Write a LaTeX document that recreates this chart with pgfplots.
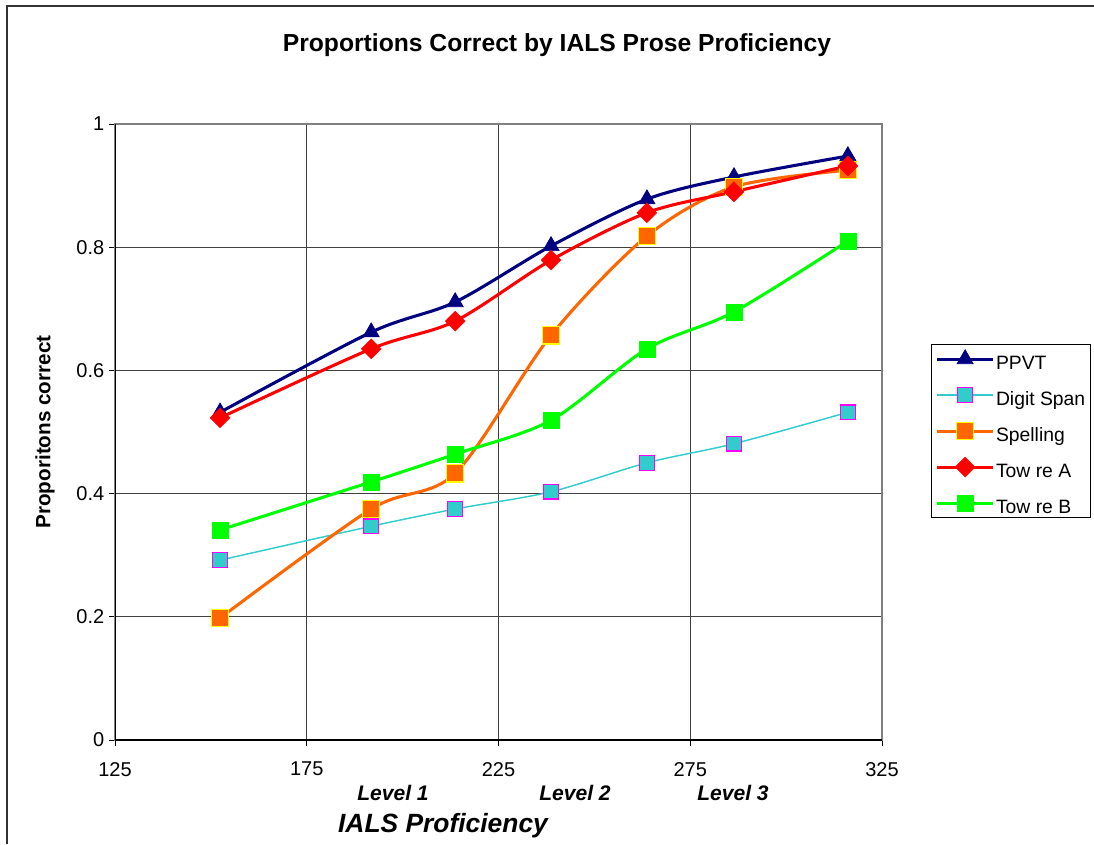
\documentclass[border=0pt]{standalone}
\usepackage{pgfplots}
\pgfplotsset{compat=1.18}
\usepackage{fontspec}
\setmainfont{Liberation Sans}
\definecolor{ppvt}{RGB}{0,0,128}
\definecolor{dsline}{RGB}{51,204,204}
\definecolor{dsedge}{RGB}{255,0,255}
\definecolor{spell}{RGB}{255,102,0}
\definecolor{spedge}{RGB}{255,255,0}
\definecolor{towa}{RGB}{255,0,0}
\definecolor{towb}{RGB}{0,255,0}
\begin{document}
\begin{tikzpicture}
\path[use as bounding box] (0,0) rectangle (820.5pt,633pt);
\draw[line width=1.3pt, black!80] (5.25pt,0) -- (5.25pt,628.5pt) -- (820.5pt,628.5pt);
\node[font=\bfseries\fontsize{18.5}{22}\selectfont] at (417.75pt,599.25pt) {Proportions Correct by IALS Prose Proficiency};
\begin{axis}[
  at={(86.25pt,78pt)}, anchor=south west,
  scale only axis, width=575.25pt, height=462pt,
  xmin=125, xmax=325, ymin=0, ymax=1,
  xtick={125,175,225,275,325}, ytick={0,0.2,0.4,0.6,0.8,1},
  yticklabels={0,0.2,0.4,0.6,0.8,1},
  /pgf/number format/assume math mode=true,
  ticklabel style={font=\fontsize{15}{18}\selectfont},
  xtick pos=bottom, ytick pos=left,
  tick align=outside, major tick length=4.5pt,
  tick style={black, line width=0.7pt},
  xticklabel style={yshift=-8.5pt},
  grid=major, major grid style={black!75, line width=0.6pt},
  axis line style={draw=black!50, line width=1.1pt},
  legend style={at={(1.0639,0.6429)}, anchor=north west, draw=black, line width=0.9pt,
    cells={anchor=west},
    nodes={inner sep=1pt, text height=17.75pt, text depth=2pt, font=\fontsize{14.5}{17}\selectfont},
    row sep=5.25pt, inner xsep=3pt, inner ysep=0pt},
  legend image code/.code={\draw[mark repeat=2, mark phase=2] plot coordinates {(0pt,0pt) (21pt,0pt) (42pt,0pt)};},
  every axis plot/.append style={smooth, tension=0.5},
]
\addplot[ppvt, line width=2.3pt, mark=triangle*, mark size=7pt, mark options={solid, fill=ppvt, draw=ppvt, line width=0.5pt}]
  coordinates {(152.4,0.532) (191.8,0.662) (213.7,0.711) (238.7,0.802) (263.7,0.878) (286.4,0.914) (316.1,0.948)};
\addlegendentry{PPVT}
\addplot[dsline, line width=1.1pt, mark=square*, mark size=5.6pt, mark options={solid, fill=dsline, draw=dsedge, line width=1.1pt}]
  coordinates {(152.4,0.292) (191.8,0.347) (213.7,0.375) (238.7,0.403) (263.7,0.450) (286.4,0.481) (316.1,0.532)};
\addlegendentry{Digit Span}
\addplot[spell, line width=2.3pt, mark=square*, mark size=6.4pt, mark options={solid, fill=spell, draw=spedge, line width=1.1pt}]
  coordinates {(152.4,0.198) (191.8,0.375) (213.7,0.433) (238.7,0.657) (263.7,0.818) (286.4,0.898) (316.1,0.925)};
\addlegendentry{Spelling}
\addplot[towa, line width=2.3pt, mark=square*, mark size=5.3pt, mark options={solid, fill=towa, draw=towa, line width=0.3pt, rotate=45}]
  coordinates {(152.4,0.523) (191.8,0.635) (213.7,0.680) (238.7,0.779) (263.7,0.856) (286.4,0.890) (316.1,0.932)};
\addlegendentry{Tow re A}
\addplot[towb, line width=2.3pt, mark=square*, mark size=6pt, mark options={solid, fill=towb, draw=towb, line width=0.3pt}]
  coordinates {(152.4,0.341) (191.8,0.419) (213.7,0.464) (238.7,0.519) (263.7,0.635) (286.4,0.695) (316.1,0.810)};
\addlegendentry{Tow re B}
\draw[black, line width=0.9pt] (rel axis cs:0,1) -- (rel axis cs:0,0) -- (rel axis cs:1,0);
\end{axis}
\node[rotate=90, font=\bfseries\fontsize{15.5}{18}\selectfont] at (33.75pt,309pt) {Proporitons correct};
\node[font=\bfseries\itshape\fontsize{15.8}{18}\selectfont] at (294.75pt,38.25pt) {Level 1};
\node[font=\bfseries\itshape\fontsize{15.8}{18}\selectfont] at (431.25pt,38.25pt) {Level 2};
\node[font=\bfseries\itshape\fontsize{15.8}{18}\selectfont] at (549.75pt,38.25pt) {Level 3};
\node[font=\bfseries\itshape\fontsize{19.8}{23}\selectfont] at (332.25pt,13.5pt) {IALS Proficiency};
\end{tikzpicture}
\end{document}
